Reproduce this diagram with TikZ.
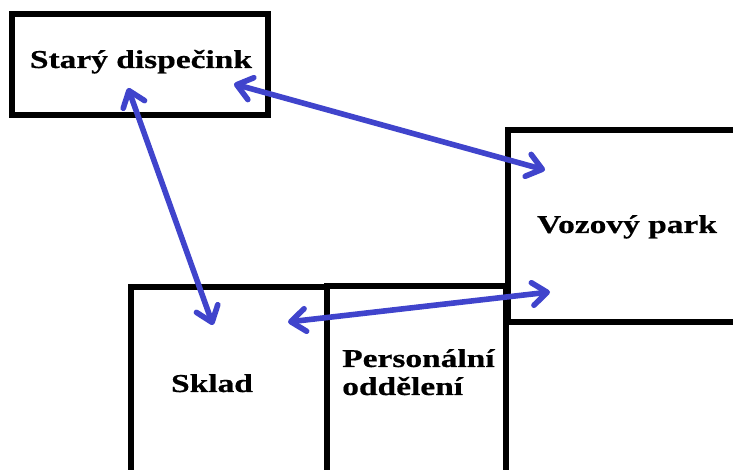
\documentclass[tikz,border=0pt]{standalone}
\usepackage{fontspec}
\setmainfont{Liberation Serif}
\newfontfamily\roomfont[FakeStretch=1.3,FakeBold=0.6]{Liberation Serif}
\usepackage{xcolor}
\usetikzlibrary{arrows.meta,positioning}
\definecolor{linkblue}{RGB}{64,68,204}

\begin{document}
\begin{tikzpicture}[
    x=0.75pt, y=-0.75pt,
    room/.style={shape=rectangle, draw, line width=5.2pt, inner sep=0pt},
    roomname/.style={font=\roomfont\bfseries\fontsize{19.3}{21}\selectfont, inner sep=0pt},
    link/.style={{Straight Barb[length=11pt,width=17pt,round]}-{Straight Barb[length=11pt,width=17pt,round]},
        draw=linkblue, line width=4.2pt, line cap=round}
]
    \useasboundingbox (0,0) rectangle (733,470);
    \clip (0,0) rectangle (733,470);

    % Rooms
    \node[room, minimum width=192pt, minimum height=75.75pt] (Stary) at (140,64.5) {};
    \node[room, minimum width=219pt, minimum height=144pt] (Vozovy) at (654,226) {};
    \node[room, minimum width=147pt, minimum height=174.75pt] (Sklad) at (229,403.5) {};
    \node[room, minimum width=134.25pt, minimum height=175.5pt] (Personal) at (416.5,403) {};

    % Room names
    \node[roomname, anchor=base] (StaryName) at (141,68) {Starý dispečink};
    \node[roomname, anchor=base] (VozovyName) at (627,233) {Vozový park};
    \node[roomname, anchor=base] (SkladName) at (212,392) {Sklad};
    \node[roomname, anchor=base west, align=left] (PersonalName) at (342,395) {Personální\\oddělení};

    % Link ends
    \coordinate (StaryA) at (128,88);
    \coordinate (StaryB) at (234,84);
    \coordinate (SkladA) at (213,325);
    \coordinate (SkladB) at (288,322);
    \coordinate (VozovyA) at (545,170);
    \coordinate (VozovyB) at (550,292);

    % Links
    \draw[link] (StaryA) -- (SkladA);
    \draw[link] (StaryB) -- (VozovyA);
    \draw[link] (SkladB) -- (VozovyB);
\end{tikzpicture}
\end{document}
